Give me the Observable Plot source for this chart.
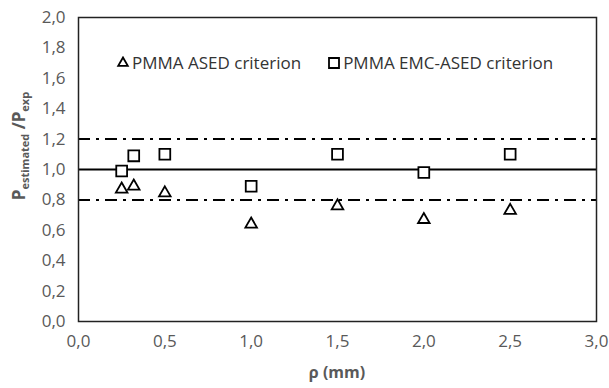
<!DOCTYPE html>
<html>
<head>
<meta charset="utf-8">
<script src="https://cdn.jsdelivr.net/npm/d3@7"></script>
<script src="https://cdn.jsdelivr.net/npm/@observablehq/plot@0.6"></script>
<style>
  html, body { margin: 0; padding: 0; background: #fff; }
  #wrap { position: relative; width: 609px; height: 388px; }
  .legend { position: absolute; top: 51px; left: 116px; font: 17px "Open Sans", sans-serif; color: #333; display: flex; align-items: center; white-space: nowrap; }
  .legend span { display: inline-flex; align-items: center; }
  .legend svg { margin-right: 2px; }
  g[aria-label$="tick label"] { font-size: 17px; }
</style>
</head>
<body>
<div id="wrap"></div>
<script>
// Data
const rho = [0.25, 0.32, 0.5, 1.0, 1.5, 2.0, 2.5];
const ased = [0.87, 0.89, 0.845, 0.64, 0.76, 0.67, 0.73];
const emcAsed = [0.99, 1.09, 1.10, 0.89, 1.10, 0.98, 1.10];
const refSolid = [1.0];
const refBand = [0.8, 1.2];
const xTicks = [0, 0.5, 1, 1.5, 2, 2.5, 3];
const yTicks = [0, 0.2, 0.4, 0.6, 0.8, 1.0, 1.2, 1.4, 1.6, 1.8, 2.0];
const seriesNames = ["PMMA ASED criterion", "PMMA EMC-ASED criterion"];

const asedData = rho.map((r, i) => ({rho: r, v: ased[i]}));
const emcData = rho.map((r, i) => ({rho: r, v: emcAsed[i]}));
const fmt = d => d.toFixed(1).replace(".", ",");

const gray = "#595959";
const chart = Plot.plot({
  width: 609,
  height: 388,
  marginLeft: 78,
  marginRight: 13,
  marginTop: 17,
  marginBottom: 67,
  style: {fontFamily: "'Open Sans', sans-serif", color: gray, background: "#fff"},
  x: {domain: [0, 3]},
  y: {domain: [0, 2]},
  marks: [
    Plot.axisX({ticks: xTicks, tickFormat: fmt, tickSize: 0, tickPadding: 13, fill: gray, label: null}),
    Plot.axisY({ticks: yTicks, tickFormat: fmt, tickSize: 0, tickPadding: 13, fill: gray, label: null}),
    Plot.ruleY(refBand, {stroke: "black", strokeWidth: 2, strokeDasharray: "12,6,3,6"}),
    Plot.ruleY(refSolid, {stroke: "black", strokeWidth: 2.2}),
    Plot.frame({stroke: "#222", strokeWidth: 1.5}),
    Plot.dot(asedData, {x: "rho", y: "v", symbol: "triangle", r: 4.3, stroke: "black", strokeWidth: 1.8, fill: "white"}),
    Plot.dot(emcData, {x: "rho", y: "v", symbol: "square", r: 6.1, stroke: "black", strokeWidth: 1.8, fill: "white"})
  ]
});

const wrap = document.getElementById("wrap");
wrap.appendChild(chart);

// Axis titles
const svg = d3.select(chart);
svg.append("text")
  .attr("x", 337).attr("y", 378)
  .attr("text-anchor", "middle")
  .attr("fill", gray)
  .style("font", "bold 16px 'Open Sans', sans-serif")
  .text("ρ (mm)");

const yl = svg.append("text")
  .attr("transform", "translate(25,146) rotate(-90)")
  .attr("text-anchor", "middle")
  .attr("fill", gray)
  .style("font", "bold 17px 'Open Sans', sans-serif");
yl.append("tspan").text("P");
yl.append("tspan").attr("dy", 4).style("font-size", "11px").text("estimated");
yl.append("tspan").attr("dy", -4).text(" /P");
yl.append("tspan").attr("dy", 4).style("font-size", "11px").text("exp");

// Legend overlay
const legend = document.createElement("div");
legend.className = "legend";
const tri = d3.symbol(d3.symbolTriangle, 40)();
const sq = d3.symbol(d3.symbolSquare, 100)();
legend.innerHTML =
  `<span><svg width="14" height="14" viewBox="-7 -7 14 14"><path d="${tri}" fill="none" stroke="black" stroke-width="1.8"/></svg>${seriesNames[0]}</span>` +
  `<span style="margin-left:26px"><svg width="14" height="14" viewBox="-7 -7 14 14"><path d="${sq}" fill="none" stroke="black" stroke-width="1.8"/></svg>${seriesNames[1]}</span>`;
wrap.appendChild(legend);
</script>
</body>
</html>
